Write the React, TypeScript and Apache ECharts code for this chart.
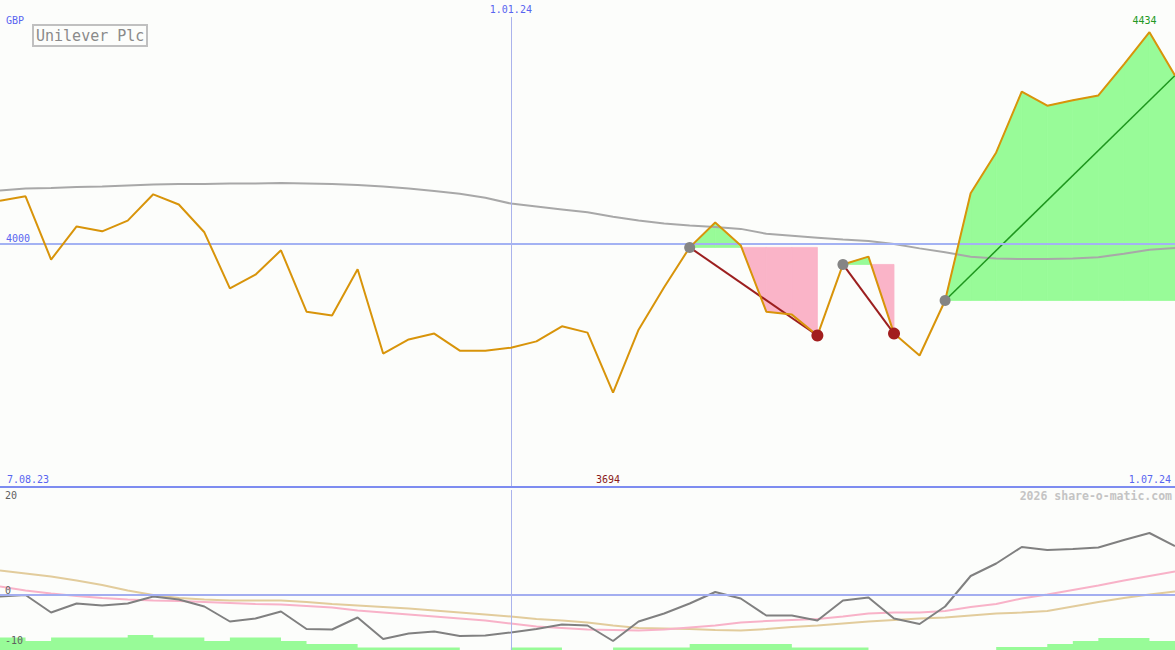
import React, { useEffect, useRef } from 'react';
import * as echarts from 'echarts';

const tickLabels = ['7.08.23', '1.01.24', '1.07.24'];
const tickIndex = [0, 20, 46];

const price = [
  4088, 4097, 3967, 4035, 4025, 4047, 4101, 4080, 4023, 3908,
  3936, 3986, 3860, 3852, 3947, 3774, 3803, 3815, 3780, 3780,
  3786, 3799, 3830, 3817, 3694, 3823, 3910, 3992, 4043, 3996,
  3860, 3854, 3811, 3957, 3973, 3815, 3770, 3883, 4103, 4187,
  4312, 4283, 4294, 4304, 4368, 4434, 4345,
];

const movingAvg = [
  4109, 4113, 4114, 4116, 4117, 4119, 4121, 4122, 4122, 4123,
  4123, 4124, 4123, 4122, 4120, 4117, 4113, 4108, 4102, 4094,
  4082, 4076, 4070, 4064, 4055, 4047, 4041, 4037, 4034, 4030,
  4020, 4016, 4012, 4008, 4005, 3999, 3990, 3982, 3973, 3969,
  3968, 3968, 3969, 3972, 3979, 3987, 3991,
];

const oscGrey = [
  -0.3, 0, -3.5, -1.7, -2.1, -1.7, -0.3, -0.9, -2.3, -5.3,
  -4.7, -3.3, -6.8, -6.9, -4.5, -8.8, -7.7, -7.3, -8.2, -8.1,
  -7.5, -6.8, -5.9, -6.1, -9.2, -5.3, -3.7, -1.7, 0.6, -0.7,
  -4.1, -4.1, -5.1, -1.1, -0.5, -4.7, -5.8, -2.3, 3.8, 6.3,
  9.6, 9.0, 9.2, 9.5, 11.0, 12.4, 9.8,
];

const oscPink = [
  1.7, 0.9, 0.3, -0.2, -0.6, -0.9, -1.1, -1.2, -1.4, -1.6,
  -1.8, -1.9, -2.2, -2.5, -3.1, -3.5, -3.9, -4.3, -4.7, -5.1,
  -5.7, -6.3, -6.6, -6.9, -7.0, -7.1, -6.9, -6.5, -6.1, -5.5,
  -5.2, -5.0, -4.8, -4.3, -3.7, -3.5, -3.5, -3.2, -2.4, -1.8,
  -0.7, 0.1, 1.0, 1.9, 2.9, 3.8, 4.7,
];

const oscTan = [
  4.9, 4.3, 3.7, 2.9, 2.0, 0.9, 0, -0.6, -0.9, -1.1,
  -1.1, -1.1, -1.4, -1.8, -2.1, -2.4, -2.7, -3.1, -3.5, -3.9,
  -4.3, -4.8, -5.1, -5.5, -6.1, -6.6, -6.7, -6.8, -7.0, -7.1,
  -6.8, -6.4, -6.1, -5.7, -5.3, -5.0, -4.7, -4.5, -4.1, -3.7,
  -3.5, -3.2, -2.3, -1.4, -0.6, 0.1, 0.7,
];

const volumeSteps = [
  -8.5, -9.2, -8.5, -8.5, -8.5, -8.0, -8.5, -8.5, -9.2, -8.5,
  -8.5, -9.2, -9.8, -9.8, -10.5, -10.5, -10.5, -10.5, -11, -11,
  -10.5, -10.5, -11, -11, -10.5, -10.5, -10.5, -9.8, -9.8, -9.8,
  -9.8, -10.5, -10.5, -10.5, -11, -11, -11, -11, -11, -10.4,
  -10.4, -9.8, -9.2, -8.6, -8.6, -9.2, -9.2,
];

const signals = [
  { start: 27, end: 32, win: false },
  { start: 33, end: 35, win: false },
  { start: 37, end: 46, win: true },
];

const BLUE = '#5865f0';
const MONO = 'DejaVu Sans Mono';
const GREEN_FILL = '#98fb98';
const PINK_FILL = '#fab4c8';

export default function App() {
  const ref = useRef<HTMLDivElement>(null);

  useEffect(() => {
    const chart = echarts.init(ref.current!, null, { renderer: 'svg' });
    const cats = price.map((_, i) => String(i));
    const maxVal = Math.max(...price);
    const minVal = Math.min(...price);
    const minIdx = price.indexOf(minVal);
    const MAIN_MIN = 3500;
    const MAIN_MAX = 4500;

    const fillData: number[][] = [];
    signals.forEach((s) => {
      for (let j = s.start; j < s.end; j++) {
        fillData.push([j, price[j], price[j + 1], price[s.start]]);
      }
    });

    const connectorSeries = signals.map((s) => ({
      type: 'line',
      xAxisIndex: 0,
      yAxisIndex: 0,
      data: price.map((v, i) => (i === s.start || i === s.end ? v : null)),
      connectNulls: true,
      symbol: 'none',
      z: 4,
      lineStyle: { color: s.win ? '#1e961e' : '#9c1f1f', width: s.win ? 1.5 : 2 },
      silent: true,
    }));

    const option: any = {
      animation: false,
      backgroundColor: '#fcfdfb',
      title: {
        text: 'Unilever Plc',
        left: 33,
        top: 25,
        padding: [3, 3, 3, 3],
        borderColor: '#c0c0c0',
        borderWidth: 2,
        textStyle: { fontFamily: MONO, fontSize: 15, fontWeight: 'normal', color: '#8a8a8a' },
      },
      graphic: [
        { type: 'text', left: 6, top: 15, z: 20, style: { text: 'GBP', fill: BLUE, font: `10px "${MONO}"` } },
        {
          type: 'text',
          right: 3,
          top: 490,
          z: 20,
          style: { text: '2026 share-o-matic.com', fill: '#c4c4c4', font: `bold 11.5px "${MONO}"` },
        },
      ],
      grid: [
        { left: 0, right: 0, top: 0, height: 487 },
        { left: 0, right: 0, top: 490, height: 160 },
      ],
      xAxis: [
        {
          type: 'category',
          gridIndex: 0,
          data: cats,
          boundaryGap: false,
          z: 10,
          axisLine: { lineStyle: { color: '#7d8cf0', width: 2 } },
          axisTick: { show: false },
          splitLine: { show: false },
          axisLabel: {
            inside: true,
            margin: 3,
            interval: 0,
            color: BLUE,
            fontFamily: MONO,
            fontSize: 10,
            padding: [0, 4, 0, 7],
            alignMinLabel: 'left',
            alignMaxLabel: 'right',
            formatter: (_v: string, idx: number) =>
              idx === tickIndex[0] ? tickLabels[0] : idx === tickIndex[2] ? tickLabels[2] : '',
          },
        },
        {
          type: 'category',
          gridIndex: 1,
          data: cats,
          boundaryGap: false,
          axisLine: { show: false },
          axisTick: { show: false },
          axisLabel: { show: false },
          splitLine: { show: false },
        },
      ],
      yAxis: [
        {
          type: 'value',
          gridIndex: 0,
          min: MAIN_MIN,
          max: MAIN_MAX,
          interval: 500,
          z: 10,
          axisLine: { show: false },
          axisTick: { show: false },
          splitLine: { show: false },
          axisLabel: {
            inside: true,
            margin: 6,
            verticalAlign: 'bottom',
            color: BLUE,
            fontFamily: MONO,
            fontSize: 10,
            formatter: (v: number) => (v === 4000 ? '4000' : ''),
          },
        },
        {
          type: 'value',
          gridIndex: 1,
          min: -11,
          max: 21,
          interval: 1,
          z: 10,
          axisLine: { show: false },
          axisTick: { show: false },
          splitLine: { show: false },
          axisLabel: {
            inside: true,
            margin: 5,
            verticalAlign: 'middle',
            color: '#606060',
            fontFamily: MONO,
            fontSize: 10,
            formatter: (v: number) =>
              v === 20 ? '20' : v === 0 || v === -10 ? `{b|${v}}` : '',
            rich: {
              b: { color: '#606060', fontFamily: MONO, fontSize: 10, padding: [0, 0, 10, 0] },
            },
          },
        },
      ],
      series: [
        {
          type: 'line',
          xAxisIndex: 0,
          yAxisIndex: 0,
          data: price.map(() => null),
          symbol: 'none',
          z: 1,
          silent: true,
          markLine: {
            silent: true,
            symbol: ['none', 'none'],
            data: [
              { yAxis: 4000, lineStyle: { color: '#a3b2f3', width: 2, type: 'solid' }, label: { show: false } },
              [
                {
                  coord: [tickIndex[1], MAIN_MIN],
                  lineStyle: { color: '#aab3ec', width: 1, type: 'solid' },
                  label: {
                    show: true,
                    position: 'end',
                    distance: 3,
                    formatter: tickLabels[1],
                    color: BLUE,
                    fontFamily: MONO,
                    fontSize: 10,
                  },
                },
                { coord: [tickIndex[1], 4465] },
              ],
            ],
          },
        },
        {
          type: 'custom',
          xAxisIndex: 0,
          yAxisIndex: 0,
          z: 2,
          silent: true,
          data: fillData,
          renderItem: (_params: any, api: any) => {
            const j = api.value(0);
            const a = api.value(1);
            const b = api.value(2);
            const L = api.value(3);
            const pA = api.coord([j, a]);
            const pB = api.coord([j + 1, b]);
            const lA = api.coord([j, L]);
            const lB = api.coord([j + 1, L]);
            const poly = (pts: number[][], fill: string) => ({
              type: 'polygon',
              shape: { points: pts },
              style: { fill, stroke: fill, lineWidth: 0.8 },
            });
            const children: any[] = [];
            if ((a - L) * (b - L) >= 0) {
              const up = (a + b) / 2 >= L;
              children.push(poly([lA, pA, pB, lB], up ? GREEN_FILL : PINK_FILL));
            } else {
              const t = (L - a) / (b - a);
              const c = [pA[0] + t * (pB[0] - pA[0]), lA[1]];
              children.push(poly([lA, pA, c], a > L ? GREEN_FILL : PINK_FILL));
              children.push(poly([c, pB, lB], b > L ? GREEN_FILL : PINK_FILL));
            }
            return { type: 'group', children };
          },
        },
        {
          type: 'line',
          xAxisIndex: 0,
          yAxisIndex: 0,
          data: movingAvg,
          symbol: 'none',
          z: 3,
          silent: true,
          lineStyle: { color: '#a8a8a8', width: 2 },
        },
        ...connectorSeries,
        {
          type: 'line',
          xAxisIndex: 0,
          yAxisIndex: 0,
          data: price,
          symbol: 'none',
          z: 5,
          silent: true,
          lineStyle: { color: '#d8940a', width: 2 },
          markPoint: {
            silent: true,
            symbol: 'circle',
            symbolSize: 0,
            data: [
              {
                coord: [price.indexOf(maxVal), maxVal],
                value: maxVal,
                label: {
                  show: true,
                  position: 'top',
                  distance: 7,
                  color: '#229922',
                  fontFamily: MONO,
                  fontSize: 10,
                  offset: [-5, 0],
                },
              },
              {
                coord: [minIdx, MAIN_MIN],
                value: minVal,
                label: {
                  show: true,
                  position: 'top',
                  distance: 3,
                  color: '#8b1a1a',
                  fontFamily: MONO,
                  fontSize: 10,
                  offset: [-5, 0],
                },
              },
            ],
          },
        },
        {
          type: 'scatter',
          xAxisIndex: 0,
          yAxisIndex: 0,
          z: 6,
          silent: true,
          symbolSize: 11,
          itemStyle: { color: '#858585', opacity: 1 },
          data: signals.map((s) => [s.start, price[s.start]]),
        },
        {
          type: 'scatter',
          xAxisIndex: 0,
          yAxisIndex: 0,
          z: 6,
          silent: true,
          symbolSize: 12,
          itemStyle: { color: '#a21e1e', opacity: 1 },
          data: signals.filter((s) => !s.win).map((s) => [s.end, price[s.end]]),
        },
        {
          type: 'line',
          xAxisIndex: 1,
          yAxisIndex: 1,
          data: volumeSteps,
          step: 'end',
          symbol: 'none',
          z: 1,
          silent: true,
          lineStyle: { width: 0, color: GREEN_FILL },
          areaStyle: { color: GREEN_FILL, opacity: 1, origin: 'start' },
          markLine: {
            silent: true,
            symbol: ['none', 'none'],
            label: { show: false },
            data: [
              { yAxis: 0, lineStyle: { color: '#a3aef0', width: 2, type: 'solid' } },
              { xAxis: tickIndex[1], lineStyle: { color: '#aab3ec', width: 1, type: 'solid' } },
            ],
          },
        },
        {
          type: 'line',
          xAxisIndex: 1,
          yAxisIndex: 1,
          data: oscTan,
          symbol: 'none',
          z: 2,
          silent: true,
          lineStyle: { color: '#e2cc9c', width: 2 },
        },
        {
          type: 'line',
          xAxisIndex: 1,
          yAxisIndex: 1,
          data: oscPink,
          symbol: 'none',
          z: 3,
          silent: true,
          lineStyle: { color: '#f8b2c8', width: 2 },
        },
        {
          type: 'line',
          xAxisIndex: 1,
          yAxisIndex: 1,
          data: oscGrey,
          symbol: 'none',
          z: 4,
          silent: true,
          lineStyle: { color: '#808080', width: 2 },
        },
      ],
    };

    chart.setOption(option);
    return () => chart.dispose();
  }, []);

  return (
    <div
      ref={ref}
      style={{ position: 'fixed', left: 0, top: 0, width: 1175, height: 650 }}
    />
  );
}
